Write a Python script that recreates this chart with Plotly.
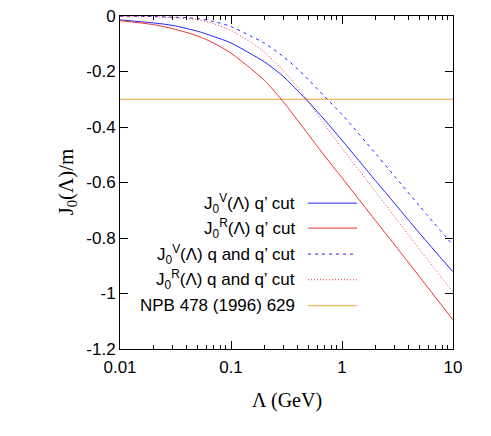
import plotly.graph_objects as go

# cutoff Lambda (GeV)
lam = [0.01, 0.02, 0.03, 0.05, 0.07, 0.1, 0.15, 0.2, 0.3, 0.4, 0.5, 0.7,
       1, 2, 3, 5, 10]

# J_0(Lambda)/m
jv_qp = [-0.014, -0.025, -0.034, -0.055, -0.074, -0.097, -0.136, -0.165,
         -0.22, -0.27, -0.31, -0.375, -0.448, -0.593, -0.677, -0.783,
         -0.922]
jr_qp = [-0.017, -0.031, -0.046, -0.072, -0.098, -0.134, -0.189, -0.232,
         -0.312, -0.377, -0.428, -0.505, -0.583, -0.737, -0.826, -0.94,
         -1.095]
jv_qqp = [-0.001, -0.002, -0.004, -0.009, -0.02, -0.038, -0.072, -0.098,
          -0.148, -0.192, -0.23, -0.291, -0.355, -0.495, -0.579, -0.685,
          -0.826]
jr_qqp = [-0.001, -0.003, -0.006, -0.013, -0.028, -0.052, -0.094, -0.13,
          -0.2, -0.258, -0.309, -0.393, -0.476, -0.633, -0.725, -0.841,
          -0.996]

npb_lam = [0.01, 10]
npb_val = [-0.3, -0.3]

y_ticks = [0, -0.2, -0.4, -0.6, -0.8, -1, -1.2]
y_tick_text = ['0', '-0.2', '-0.4', '-0.6', '-0.8', '-1', '-1.2']
x_ticks = [0.01, 0.1, 1, 10]
x_tick_text = ['0.01', '0.1', '1', '10']

BLUE = '#2424ff'
RED = '#ee3535'
ORANGE = '#eca83a'

series = [
    ('J<sub>0</sub><sup>V</sup>(Λ) q’ cut', jv_qp, BLUE, 'solid'),
    ('J<sub>0</sub><sup>R</sup>(Λ) q’ cut', jr_qp, RED, 'solid'),
    ('J<sub>0</sub><sup>V</sup>(Λ) q and q’ cut', jv_qqp, BLUE, '3px,4px'),
    ('J<sub>0</sub><sup>R</sup>(Λ) q and q’ cut', jr_qqp, RED, '1px,2px'),
]

fig = go.Figure()

fig.add_trace(go.Scatter(
    x=npb_lam, y=npb_val, mode='lines',
    line=dict(color=ORANGE, width=1), showlegend=False,
))

for name, vals, color, dash in series:
    fig.add_trace(go.Scatter(
        x=lam, y=vals, mode='lines', name=name,
        line=dict(color=color, width=1, dash=dash, shape='spline',
                  smoothing=0.8),
        showlegend=False,
    ))

# hand-made key: right aligned text, line sample on the right
key = [(s[0], s[2], s[3]) for s in series]
key.append(('NPB 478 (1996) 629', ORANGE, 'solid'))
row_y = [0.438, 0.363, 0.285, 0.208, 0.130]
for (label, color, dash), yy in zip(key, row_y):
    fig.add_annotation(
        x=0.533, y=yy, xref='paper', yref='paper', xanchor='right',
        yanchor='middle', text=label, showarrow=False,
        font=dict(family='Liberation Sans', size=17, color='black'),
    )
    fig.add_shape(
        type='line', xref='paper', yref='paper',
        x0=0.5646, x1=0.7117, y0=yy, y1=yy,
        line=dict(color=color, width=1, dash=dash),
    )

# axis titles
fig.add_annotation(
    x=0.5, y=-0.155, xref='paper', yref='paper', yanchor='middle',
    text='Λ (GeV)', showarrow=False,
    font=dict(family='Liberation Serif', size=20, color='black'),
)
fig.add_annotation(
    x=-0.162, y=0.5, xref='paper', yref='paper', xanchor='center',
    text='J<sub>0</sub>(Λ)/m', showarrow=False, textangle=-90,
    font=dict(family='Liberation Serif', size=21, color='black'),
)

axis_common = dict(
    showline=True, linecolor='black', linewidth=1, mirror='ticks',
    ticks='inside', ticklen=8, tickcolor='black', showgrid=False,
    zeroline=False, ticklabeloverflow='allow', automargin=False,
    tickfont=dict(family='Liberation Sans', size=17, color='black'),
)

fig.update_xaxes(
    type='log', range=[-2, 1], tickvals=x_ticks, ticktext=x_tick_text,
    ticklabelstandoff=3,
    minor=dict(ticks='inside', ticklen=4, tickcolor='black', dtick='D1',
               showgrid=False),
    **axis_common,
)
fig.update_yaxes(
    range=[-1.2, 0], tickvals=y_ticks, ticktext=y_tick_text,
    **axis_common,
)

# page body keeps an 8px margin, so the figure is 16px smaller
fig.update_layout(
    width=475, height=420,
    margin=dict(l=112, r=30, t=8, b=79),
    plot_bgcolor='white', paper_bgcolor='white',
    showlegend=False,
)

fig.write_html('out.html')
